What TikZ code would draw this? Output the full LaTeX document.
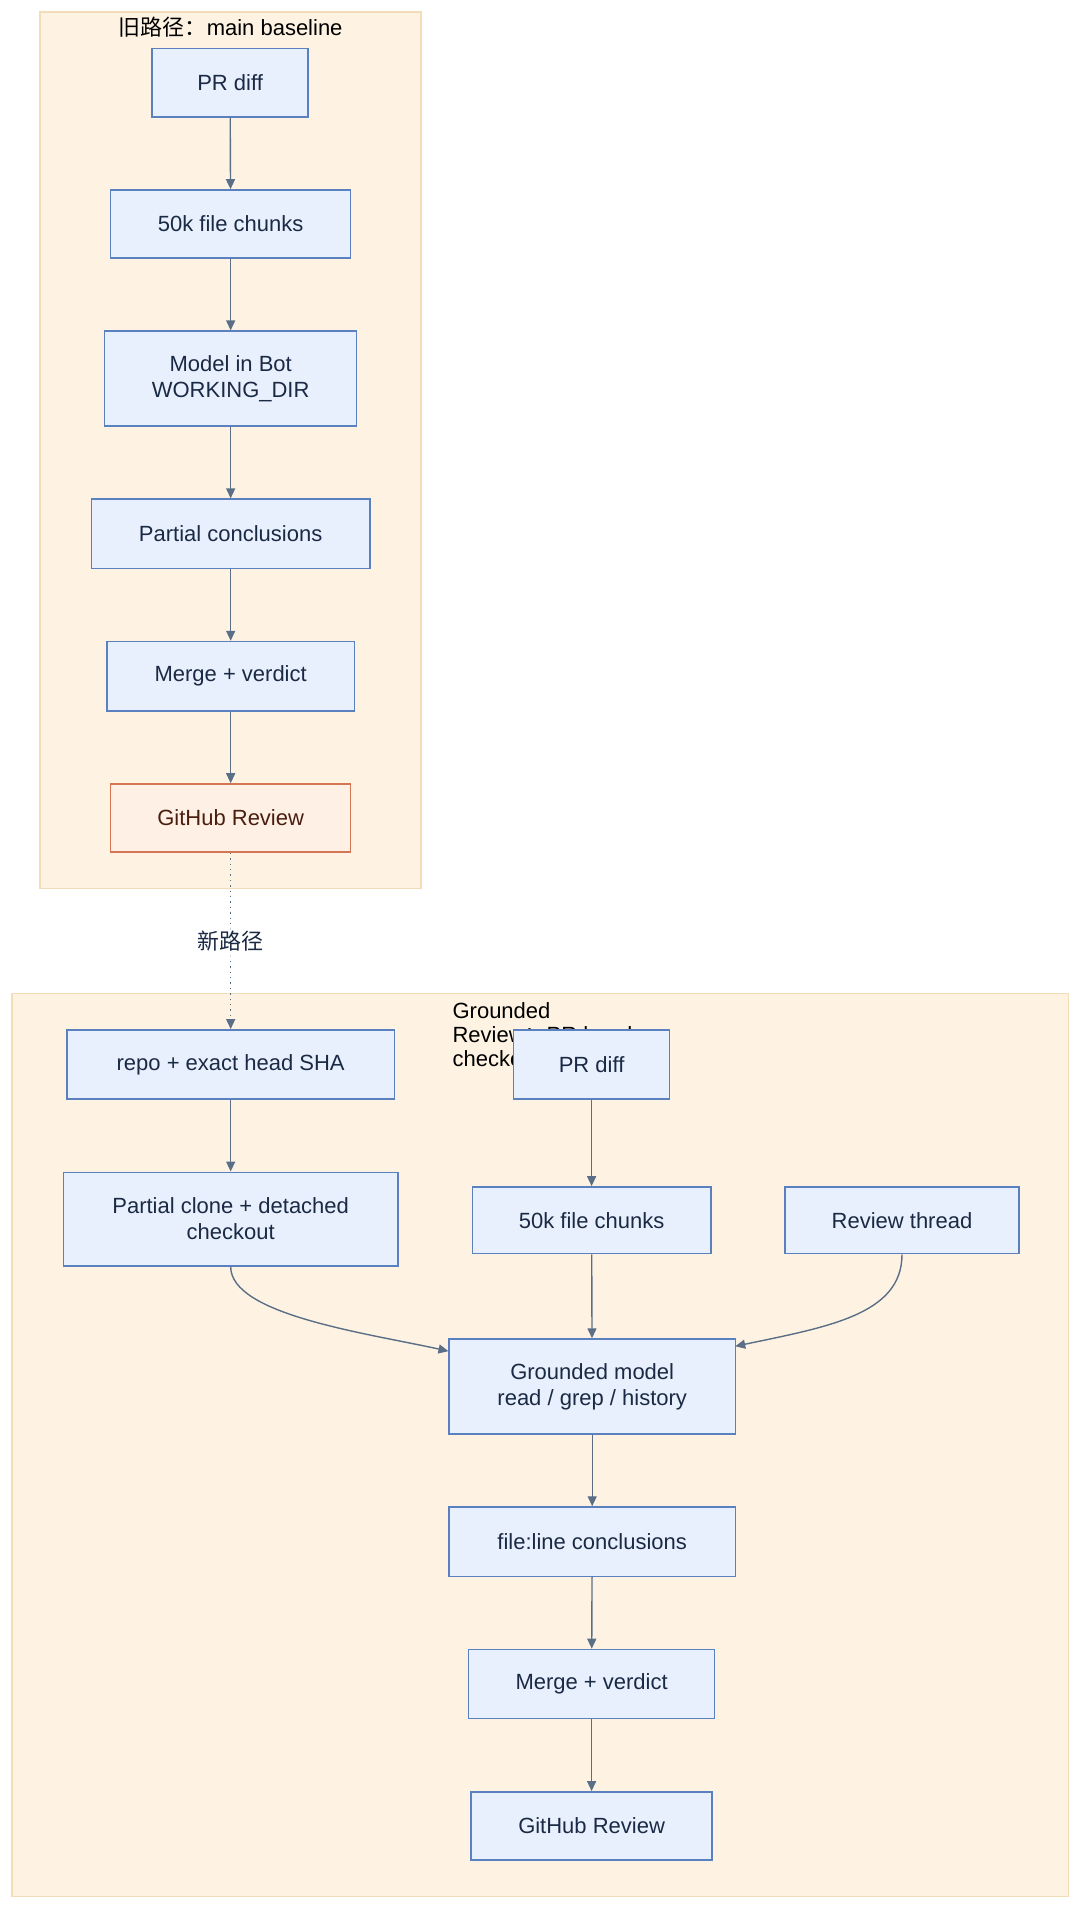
\documentclass[tikz,border=0pt]{standalone}
\usepackage{fontspec}
\setmainfont{Liberation Sans}
\newfontfamily\cjk{Noto Sans CJK SC}
\usetikzlibrary{arrows.meta}
\definecolor{nfill}{HTML}{E8F0FD}
\definecolor{ndraw}{HTML}{5A80BF}
\definecolor{cfill}{HTML}{FEF3E2}
\definecolor{cdraw}{HTML}{F3DDB9}
\definecolor{edge}{HTML}{5B6E88}
\definecolor{txt}{HTML}{1B2A44}
\definecolor{ofill}{HTML}{FFF0E6}
\definecolor{odraw}{HTML}{D47654}
\definecolor{otxt}{HTML}{4A1E0E}
\begin{document}
\begin{tikzpicture}[x=0.6088pt,y=-0.6088pt,
  box/.style={draw=ndraw,fill=nfill,line width=0.7pt,text=txt,font=\fontsize{11}{13}\selectfont,align=center,inner sep=0pt},
  arr/.style={draw=edge,line width=0.7pt,-{Triangle[length=5pt,width=4.5pt]}},
  clus/.style={draw=cdraw,fill=cfill,line width=0.7pt}]
\useasboundingbox (0,0) rectangle (887,1565);
\fill[white] (0,0) rectangle (887,1565);
\draw[clus] (33,10) rectangle (346,730);
\node[font=\fontsize{11}{13}\selectfont] (t1) at (189.5,22) {{\cjk 旧路径：}main baseline};
\draw[clus] (10,816) rectangle (878,1558);
\node[font=\fontsize{11}{12}\selectfont,align=left,anchor=north west] (t2) at (366,818) {Grounded\\Review{\cjk ：}PR head\\checkout};
\newcommand\bx[6]{\node[box,minimum width=(#4-#2)*0.6088pt,minimum height=(#5-#3)*0.6088pt] (#1) at ({(#2+#4)/2},{(#3+#5)/2}) {#6};}
\bx{a1}{125}{40}{253}{96}{PR diff}
\bx{a2}{91}{156}{288}{212}{50k file chunks}
\bx{a3}{86}{272}{293}{350}{Model in Bot\\WORKING\_DIR}
\bx{a4}{75}{410}{304}{467}{Partial conclusions}
\bx{a5}{88}{527}{291}{584}{Merge + verdict}
\node[box,draw=odraw,fill=ofill,text=otxt,minimum width=197*0.6088pt,minimum height=56*0.6088pt] (a6) at (189.5,672) {GitHub Review};
\bx{b1}{55}{846}{324}{903}{repo + exact head SHA}
\bx{b2}{52}{963}{327}{1040}{Partial clone + detached\\checkout}
\bx{c1}{422}{846}{550}{903}{PR diff}
\bx{c2}{388}{975}{584}{1030}{50k file chunks}
\bx{r1}{645}{975}{837}{1030}{Review thread}
\bx{g1}{369}{1100}{604}{1178}{Grounded model\\read / grep / history}
\bx{g2}{369}{1238}{604}{1295}{file:line conclusions}
\bx{g3}{385}{1355}{587}{1412}{Merge + verdict}
\bx{g4}{387}{1472}{585}{1528}{GitHub Review}
\draw[arr] (a1) -- (a2);
\draw[arr] (a2) -- (a3);
\draw[arr] (a3) -- (a4);
\draw[arr] (a4) -- (a5);
\draw[arr] (a5) -- (a6);
\draw[arr,dotted] (a6) -- node[fill=white,fill opacity=0.7,text opacity=1,font=\cjk\fontsize{11}{13}\selectfont,text=txt,pos=0.5] {新路径} (b1);
\draw[arr] (b1) -- (b2);
\draw[arr] (c1) -- (c2);
\draw[arr] (c2) -- (g1);
\draw[arr] (b2.south) .. controls (189.5,1080) and (300,1095) .. (g1.north west |- 0,1110);
\draw[arr] (r1.south) .. controls (741,1080) and (680,1090) .. (604,1106);
\draw[arr] (g1) -- (g2);
\draw[arr] (g2) -- (g3);
\draw[arr] (g3) -- (g4);
\end{tikzpicture}
\end{document}
